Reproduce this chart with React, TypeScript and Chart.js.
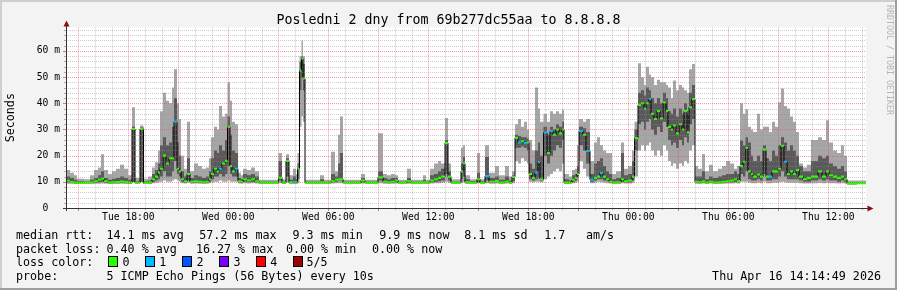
import { useEffect, useRef } from 'react';
import { Chart, registerables } from 'chart.js';

Chart.register(...registerables);

// ---- time axis (hours since Tue 00:00) ----
const X_START = 14.26;
const X_END = 62.26;
const Y_MAX = 69;

const times = [
  14.26, 14.5, 14.74, 14.92, 15.34, 15.7, 15.94, 16.18, 16.36, 16.54,
  16.78, 17.02, 17.26, 17.5, 17.74, 17.98, 18.22, 18.4, 18.7, 18.91,
  19.18, 19.42, 19.6, 19.78, 19.9, 20.08, 20.26, 20.44, 20.62, 20.74,
  20.92, 21.04, 21.16, 21.34, 21.52, 21.7, 21.94, 22.18, 22.42, 22.66,
  22.84, 22.96, 23.14, 23.32, 23.44, 23.62, 23.8, 23.95, 24.1, 24.22,
  24.4, 24.58, 24.76, 24.88, 25.12, 25.36, 25.6, 25.84, 27.01, 27.22,
  27.46, 27.64, 27.88, 28.06, 28.15, 28.27, 28.39, 28.48, 28.6, 29.5,
  29.74, 30.16, 30.4, 30.58, 30.7, 30.88, 31.96, 32.2, 32.98, 33.28,
  33.52, 33.76, 34.0, 34.18, 34.72, 34.96, 35.68, 35.86, 36.1, 36.34,
  36.58, 36.76, 37.0, 37.18, 37.36, 37.96, 38.08, 38.2, 38.5, 38.92,
  39.1, 39.4, 39.64, 40.0, 40.24, 40.6, 40.84, 41.02, 41.2, 41.38,
  41.56, 41.74, 41.92, 42.04, 42.22, 42.4, 42.58, 42.7, 42.91, 43.12,
  43.3, 43.48, 43.66, 43.84, 44.02, 44.14, 44.44, 44.62, 44.8, 44.92,
  45.04, 45.28, 45.46, 45.7, 45.94, 46.12, 46.3, 46.48, 46.66, 46.84,
  47.02, 47.26, 47.56, 47.74, 47.98, 48.22, 48.37, 48.58, 48.76, 48.94,
  49.06, 49.24, 49.36, 49.54, 49.72, 49.9, 50.08, 50.26, 50.38, 50.56,
  50.68, 50.86, 51.04, 51.22, 51.34, 51.52, 51.64, 51.82, 52.0, 52.18,
  52.42, 52.6, 52.84, 53.08, 53.38, 53.62, 53.86, 54.1, 54.34, 54.52,
  54.7, 54.88, 55.03, 55.18, 55.36, 55.48, 55.72, 55.9, 56.08, 56.26,
  56.44, 56.62, 56.8, 56.98, 57.16, 57.34, 57.52, 57.7, 57.88, 58.06,
  58.24, 58.48, 58.72, 58.96, 59.2, 59.38, 59.62, 59.86, 60.04, 60.28,
  60.52, 60.76, 60.94, 61.12, 61.72,
];

// ---- rtt values (ms) ----
const minRtt = [
  9.3, 9.3, 9.2, 9.2, 9.2, 9.3, 9.3, 9.3, 9.4, 9.3,
  9.2, 9.3, 9.3, 9.3, 9.3, 9.2, 9.8, 9.2, 9.8, 9.2,
  9.2, 9.5, 9.6, 9.8, 10, 10.5, 10, 10, 10.5, 11,
  10.5, 10, 9.5, 9.4, 9.6, 9.3, 9.4, 9.3, 9.3, 9.3,
  9.5, 9.7, 10, 10, 10.5, 10, 10, 10.5, 10, 10,
  10, 9.4, 9.3, 9.5, 9.4, 9.5, 9.4, 9.2, 9.5, 9.2,
  9.6, 9.3, 9.3, 9.3, 9.5, 31, 35, 33, 9.2, 9.3,
  9.2, 9.4, 9.5, 9.5, 9.5, 9.2, 9.4, 9.2, 9.5, 9.3,
  9.3, 9.3, 9.4, 9.2, 9.3, 9.2, 9.3, 9.2, 9.4, 9.5,
  9.5, 9.6, 10, 9.6, 9.2, 9.6, 9.8, 9.3, 9.2, 9.5,
  9.2, 9.5, 9.3, 9.4, 9.3, 9.4, 9.2, 9.5, 18, 17,
  19, 18, 17, 10, 9.8, 10, 10, 9.8, 11, 12,
  13, 14, 15, 14, 17, 9.2, 9.2, 9.5, 9.6, 10,
  18, 15, 12, 9.5, 9.6, 10, 9.8, 9.6, 9.5, 9.4,
  9.3, 9.3, 9.5, 9.4, 9.4, 9.6, 12, 22, 24, 22,
  24, 25, 22, 20, 22, 20, 24, 22, 18, 16,
  17, 15, 17, 16, 18, 17, 22, 24, 9.3, 9.3,
  9.4, 9.3, 9.4, 9.3, 9.3, 9.3, 9.4, 9.4, 9.5, 9.4,
  10, 10, 10, 9.6, 9.5, 9.5, 9.6, 9.5, 10, 9.5,
  9.5, 9.6, 9.6, 9.8, 10, 9.8, 9.6, 9.6, 9.6, 9.6,
  9.5, 9.4, 9.4, 9.5, 9.5, 9.6, 9.5, 9.6, 9.5, 9.5,
  9.4, 9.5, 9.4, 9.1, 9.2,
];

const lowRtt = [
  9.8, 9.6, 9.4, 9.4, 9.4, 9.5, 9.6, 9.8, 10, 9.6,
  9.4, 9.5, 9.5, 9.6, 9.5, 9.4, 10, 9.4, 10, 9.4,
  9.4, 10, 10.5, 11, 12, 14, 12, 12, 14, 18,
  13, 12, 10, 9.7, 10.5, 9.6, 9.7, 9.6, 9.5, 9.6,
  10, 11, 12, 12, 13, 12, 13, 16, 13, 12,
  12, 9.7, 9.6, 10, 9.8, 10, 9.7, 9.4, 10.5, 9.4,
  12, 9.5, 9.5, 9.5, 11, 45, 50, 45, 9.4, 9.5,
  9.4, 9.7, 10, 10.5, 10.5, 9.4, 9.7, 9.4, 10.5, 9.6,
  9.5, 9.6, 9.8, 9.4, 9.6, 9.4, 9.5, 9.4, 9.8, 10,
  10.2, 10.5, 13, 10.5, 9.4, 11, 12, 9.5, 9.4, 10,
  9.4, 10.5, 9.6, 9.8, 9.5, 9.7, 9.4, 10.2, 23, 23,
  23.5, 23, 22, 11, 10.5, 11, 11.5, 10.5, 20, 17,
  20, 22, 24, 23, 26, 9.4, 9.4, 10, 10.5, 12,
  24, 22, 17, 10, 10.5, 11, 11, 10.5, 10.3, 9.7,
  9.5, 9.5, 10, 9.7, 9.8, 10.5, 22, 32, 33, 30,
  33, 34, 30, 28, 31, 29, 33, 31, 26, 24,
  25, 23, 26, 24, 27, 25, 32, 34, 9.6, 9.5,
  9.7, 9.5, 9.6, 9.5, 9.5, 9.6, 9.7, 9.8, 10, 9.8,
  13, 12, 14, 11, 10.5, 10.5, 11, 10.5, 13, 10.5,
  10.5, 11, 11, 12, 14, 12, 11, 11, 11, 11,
  10.5, 10, 10, 10.5, 10.5, 11, 10.5, 11, 10.5, 10.5,
  10, 10.5, 10, 9.2, 9.3,
];

const medianRtt = [
  10.4, 9.9, 9.7, 9.6, 9.6, 9.8, 10.2, 10.8, 11.2, 10.2,
  9.7, 9.8, 9.9, 10.1, 9.9, 9.7, 30.2, 9.6, 30.2, 9.6,
  9.7, 11, 12, 13.5, 15, 20, 17, 19, 19, 33,
  15, 14, 11, 10.2, 13, 10, 10.2, 10, 9.8, 10,
  11, 13, 15, 14, 15, 17, 18, 31, 16, 14,
  15, 10.2, 10, 11, 10.5, 11, 10.2, 9.6, 11.5, 9.7,
  18, 9.8, 9.9, 9.8, 15, 52.5, 57, 49.5, 9.6, 9.8,
  9.6, 10.2, 10.8, 11, 11, 9.6, 10.5, 9.6, 11.7, 10,
  9.8, 10, 10.5, 9.6, 10.2, 9.6, 9.8, 9.6, 10.5, 11,
  11.5, 12, 24.8, 12, 9.6, 14, 17, 9.8, 9.6, 11,
  9.6, 12.2, 10, 10.3, 9.7, 10, 9.6, 11.9, 26.8, 25,
  25.5, 24.8, 25, 13, 11.5, 13.5, 17.5, 11, 28.8, 21,
  29.4, 28, 30, 28.5, 30, 9.7, 9.6, 10.8, 11.5, 13,
  29.4, 28, 21.8, 10.8, 11.5, 12, 13.4, 12, 11, 10,
  9.7, 9.8, 11, 10.2, 10.5, 12, 26.7, 39.4, 40, 38,
  40, 41.6, 36, 34, 37, 34.3, 40.4, 37, 31, 30,
  31.5, 28.5, 32, 30, 37, 29, 38.5, 41.6, 10, 9.8,
  10.2, 9.7, 10, 9.7, 9.8, 10, 10.2, 10.5, 11, 10.3,
  16, 17.7, 22.9, 14, 13, 12, 12.8, 12, 22.3, 12,
  12, 14, 14, 15, 23.8, 17.7, 13, 14, 13, 14.5,
  12, 11, 11.5, 12, 12, 14, 12, 14, 12.5, 12,
  11.5, 12, 11, 9.3, 9.5,
];

const highRtt = [
  12, 11.5, 10.8, 10.2, 10.0, 10.8, 11.5, 12.5, 14, 11.5,
  10.8, 11.2, 11.5, 12, 11.5, 10.8, 31, 10.2, 30.8, 10.2,
  10.5, 13, 14.5, 17, 24, 27, 24, 25, 31, 42,
  25, 20, 14, 12, 19, 11.5, 12.5, 12, 11.5, 12,
  14, 19, 22, 21, 24, 22, 26, 35, 28, 22,
  21, 11.5, 11, 13, 12.5, 13, 12, 10, 18, 10.2,
  19, 10.8, 12, 11, 17, 56, 58, 55, 10, 11,
  10, 13, 12, 17, 21, 10, 11.5, 10, 14, 11.5,
  11, 11.5, 11.5, 10, 11.5, 10, 10.8, 10, 12.5, 13,
  14, 15, 26, 14, 10, 17, 19.5, 11, 10.2, 13.5,
  10.2, 19.5, 11.5, 12, 10.8, 12, 10.5, 12.5, 28, 27.5,
  27, 27, 26.5, 17, 15, 22, 25, 20, 31, 28,
  31, 30, 32, 31, 33, 11, 10.5, 12.5, 13, 16,
  31, 30.5, 29, 13, 17, 18, 19, 16, 14, 13,
  11, 11.5, 21, 12.5, 13, 18, 30, 44, 45, 43,
  46, 45, 42, 40, 42, 40, 44, 42, 37, 36,
  38, 35, 38, 36, 40, 36, 44, 47, 12, 12,
  14, 11, 12, 11.5, 12, 12.5, 13, 13, 14, 13,
  25.8, 24, 27, 25, 20, 18, 20, 18, 24, 19,
  18, 22, 20, 24, 27, 25, 22, 24, 22, 20,
  16, 14, 14, 18, 18, 20, 19, 20, 17, 16,
  15, 16, 14, 9.6, 9.8,
];

const maxRtt = [
  14.5, 13.5, 12.5, 11.2, 11.0, 12.5, 14.5, 15.5, 20.5, 14.5,
  13, 14, 15, 16.5, 15, 12.5, 38.5, 11.5, 31.5, 11.2,
  12, 15.5, 17.5, 22, 37, 44, 41, 40, 46, 53,
  40, 34, 20, 15, 33, 14, 17, 16, 15, 15.5,
  19, 27, 31, 30, 39, 35, 36, 48, 41, 33,
  32, 13.5, 12.5, 15, 14.5, 15.5, 14, 10.8, 21, 11,
  20.5, 12.5, 15, 13, 21, 58, 64, 58, 10.8, 12.5,
  10.8, 21.5, 14, 28, 35, 10.8, 13, 10.8, 28.6, 13,
  12.5, 13, 12.5, 10.8, 15, 10.8, 12.5, 10.8, 15, 17,
  18, 17, 34.4, 17, 11, 23, 24, 12.5, 11, 21,
  11, 24, 13.5, 16, 12.5, 16, 12, 14, 32, 34,
  31, 33, 30, 26, 22, 46, 38, 33, 36, 33,
  37, 36, 37, 36, 37.5, 13, 12, 14.5, 15, 24,
  34, 33, 34, 18, 25, 27, 24, 22, 21, 21,
  13, 14, 25, 15, 16, 22, 33, 55.3, 50, 47,
  54, 51, 50, 47, 49, 48, 48, 47, 46, 42,
  48.7, 45, 47, 46, 45, 44, 53, 55, 16, 15,
  20.6, 14, 16.5, 14, 15, 16, 18, 17, 15, 16,
  40, 36, 37.7, 31, 30, 29, 36, 30, 31, 31,
  29, 33, 31, 40.4, 45.7, 39, 38, 35, 33, 29,
  17, 15.5, 16.5, 26, 26, 27, 26, 33.5, 25, 22,
  21, 24, 20, 10.5, 10.5,
];

// lost pings out of 5 for each step
const lossCount = [
  0, 0, 0, 0, 0, 0, 0, 0, 0, 0,
  0, 0, 0, 0, 0, 0, 0, 0, 0, 0,
  0, 0, 0, 0, 0, 0, 0, 0, 0, 1,
  0, 0, 0, 0, 0, 0, 0, 0, 0, 0,
  0, 0, 0, 0, 1, 0, 0, 0, 0, 0,
  1, 0, 0, 0, 0, 0, 0, 0, 0, 0,
  0, 0, 1, 0, 0, 0, 0, 0, 0, 0,
  0, 0, 0, 0, 0, 0, 0, 0, 0, 0,
  0, 0, 0, 0, 0, 0, 0, 0, 0, 0,
  0, 0, 0, 0, 0, 0, 0, 0, 0, 0,
  0, 1, 0, 0, 0, 0, 0, 0, 0, 1,
  0, 1, 0, 0, 0, 1, 1, 0, 1, 0,
  1, 0, 0, 0, 0, 0, 0, 0, 0, 0,
  1, 0, 1, 1, 0, 0, 1, 0, 0, 0,
  0, 0, 0, 0, 0, 0, 0, 0, 0, 0,
  0, 1, 0, 0, 0, 0, 0, 0, 0, 0,
  0, 0, 0, 0, 0, 0, 0, 0, 0, 0,
  0, 0, 0, 0, 0, 0, 0, 0, 0, 0,
  0, 0, 0, 0, 0, 0, 0, 0, 0, 0,
  1, 0, 0, 0, 0, 1, 0, 0, 0, 0,
  0, 0, 0, 0, 0, 0, 0, 0, 0, 0,
  0, 0, 0, 0, 0,
];

// ---- ticks & texts ----
const xTickHours = [18, 24, 30, 36, 42, 48, 54, 60];
const xTickLabels = ['Tue 18:00', 'Wed 00:00', 'Wed 06:00', 'Wed 12:00', 'Wed 18:00', 'Thu 00:00', 'Thu 06:00', 'Thu 12:00'];
const yTickValues = [0, 10, 20, 30, 40, 50, 60];
const yTickLabels = ['0  ', '10 m', '20 m', '30 m', '40 m', '50 m', '60 m'];
const yTitle = 'Seconds';
const titleText = 'Posledni 2 dny from 69b277dc55aa to 8.8.8.8';
const watermark = 'RRDTOOL / TOBI OETIKER';
const rttRow = ['median rtt:', '14.1 ms avg', '57.2 ms max', '9.3 ms min', '9.9 ms now', '8.1 ms sd', '1.7', 'am/s'];
const lossRow = ['packet loss:', '0.40 % avg', '16.27 % max', '0.00 % min', '0.00 % now'];
const lossColorLabel = 'loss color:';
const lossLabels = ['0', '1', '2', '3', '4', '5/5'];
const lossColors = ['#26ff00', '#00b8ff', '#0059ff', '#7e00ff', '#ff0000', '#a10000'];
const probeRow = ['probe:', '5 ICMP Echo Pings (56 Bytes) every 10s'];
const stampText = 'Thu Apr 16 14:14:49 2026';

const FONT = 'DejaVu Sans Mono';
const LIGHT = '#a6a6a6';
const DARK = '#5a5a5a';
const MEDIAN_HALF = 0.4;

function series(values: number[]) {
  const pts = times.map((t, i) => ({ x: t, y: values[i] }));
  pts.push({ x: X_END, y: values[values.length - 1] });
  return pts;
}

const framePlugin = {
  id: 'rrdFrame',
  beforeDraw(chart: any) {
    const { ctx, width, height, chartArea: a } = chart;
    ctx.save();
    ctx.fillStyle = '#f3f3f3';
    ctx.fillRect(0, 0, width, height);
    ctx.fillStyle = '#cfcfcf';
    ctx.fillRect(0, 0, width, 2);
    ctx.fillRect(0, 0, 2, height);
    ctx.fillStyle = '#9e9e9e';
    ctx.fillRect(0, height - 2, width, 2);
    ctx.fillRect(width - 2, 0, 2, height);
    ctx.fillStyle = '#ffffff';
    ctx.fillRect(a.left, a.top, a.right - a.left, a.bottom - a.top);
    ctx.restore();
  },
};

const gridPlugin = {
  id: 'rrdGrid',
  afterDatasetsDraw(chart: any) {
    const { ctx, chartArea: a, scales } = chart;
    const xs = scales.x;
    const ys = scales.y;
    const minor = 'rgba(143,143,143,0.45)';
    const major = 'rgba(222,80,80,0.55)';
    ctx.save();
    ctx.lineWidth = 1;
    ctx.setLineDash([1, 1]);
    for (let h = Math.ceil(xs.min); h <= xs.max; h++) {
      const px = Math.round(xs.getPixelForValue(h)) + 0.5;
      ctx.strokeStyle = h % 3 === 0 ? major : minor;
      ctx.beginPath();
      ctx.moveTo(px, a.top);
      ctx.lineTo(px, a.bottom);
      ctx.stroke();
    }
    for (let v = 2; v <= ys.max; v += 2) {
      const py = Math.round(ys.getPixelForValue(v)) + 0.5;
      ctx.strokeStyle = v % 10 === 0 ? major : minor;
      ctx.beginPath();
      ctx.moveTo(a.left, py);
      ctx.lineTo(a.right, py);
      ctx.stroke();
    }
    ctx.setLineDash([]);
    // tick marks
    for (let h = Math.ceil(xs.min); h <= xs.max; h++) {
      const px = Math.round(xs.getPixelForValue(h)) + 0.5;
      const isMajor = h % 3 === 0;
      ctx.strokeStyle = isMajor ? 'rgba(222,80,80,0.8)' : 'rgba(143,143,143,0.7)';
      ctx.beginPath();
      ctx.moveTo(px, a.bottom);
      ctx.lineTo(px, a.bottom + (isMajor ? 3 : 2));
      ctx.stroke();
    }
    for (let v = 2; v <= ys.max; v += 2) {
      const py = Math.round(ys.getPixelForValue(v)) + 0.5;
      const isMajor = v % 10 === 0;
      ctx.strokeStyle = isMajor ? 'rgba(222,80,80,0.8)' : 'rgba(143,143,143,0.7)';
      ctx.beginPath();
      ctx.moveTo(a.left - (isMajor ? 3 : 2), py);
      ctx.lineTo(a.left, py);
      ctx.stroke();
    }
    // axes
    const bx = Math.round(a.left) + 0.5;
    const by = Math.round(a.bottom) + 0.5;
    ctx.strokeStyle = '#333333';
    ctx.beginPath();
    ctx.moveTo(a.left - 3, by);
    ctx.lineTo(a.right + 3, by);
    ctx.moveTo(bx, a.bottom + 3);
    ctx.lineTo(bx, a.top - 3);
    ctx.stroke();
    ctx.fillStyle = '#8b1010';
    ctx.beginPath();
    ctx.moveTo(bx, a.top - 7);
    ctx.lineTo(bx - 3, a.top - 1);
    ctx.lineTo(bx + 3, a.top - 1);
    ctx.closePath();
    ctx.fill();
    ctx.beginPath();
    ctx.moveTo(a.right + 7.5, by);
    ctx.lineTo(a.right + 1.5, by - 3);
    ctx.lineTo(a.right + 1.5, by + 3);
    ctx.closePath();
    ctx.fill();
    ctx.restore();
  },
};

const textPlugin = {
  id: 'rrdText',
  afterDraw(chart: any) {
    const { ctx, width } = chart;
    ctx.save();
    ctx.fillStyle = '#000';
    ctx.textBaseline = 'alphabetic';
    ctx.textAlign = 'center';
    ctx.font = `13.3px "${FONT}"`;
    ctx.fillText(titleText, width / 2, 23.7);

    ctx.font = `11.7px "${FONT}"`;
    ctx.textAlign = 'left';
    const rttX = [16, 106.5, 199.2, 292.5, 379.2, 464.2, 544.2, 586];
    rttRow.forEach((s, i) => ctx.fillText(s, rttX[i], 238.5));
    const lossX = [16, 106.5, 195.9, 285.9, 371.9];
    lossRow.forEach((s, i) => ctx.fillText(s, lossX[i], 252.5));
    ctx.fillText(lossColorLabel, 16, 266.4);
    const boxX = [108.5, 145.5, 182.5, 219.5, 256.5, 293.5];
    const labX = [122.5, 159.2, 196.5, 233.5, 270.2, 306.5];
    lossLabels.forEach((s, i) => {
      ctx.fillStyle = lossColors[i];
      ctx.fillRect(boxX[i], 256.5, 9, 10);
      ctx.strokeStyle = '#000';
      ctx.lineWidth = 1;
      ctx.strokeRect(boxX[i], 256.5, 9, 10);
      ctx.fillStyle = '#000';
      ctx.fillText(s, labX[i], 266.4);
    });
    ctx.fillText(probeRow[0], 16, 280.4);
    ctx.fillText(probeRow[1], 106.5, 280.4);
    ctx.textAlign = 'right';
    ctx.fillText(stampText, 881, 280.4);

    // watermark
    ctx.translate(889, 5);
    ctx.rotate(Math.PI / 2);
    ctx.textAlign = 'left';
    ctx.textBaseline = 'middle';
    ctx.fillStyle = '#b4b4b4';
    ctx.font = `8.3px "${FONT}"`;
    ctx.fillText(watermark, 0, 0);
    ctx.restore();
  },
};

export default function App() {
  const ref = useRef<HTMLCanvasElement>(null);

  useEffect(() => {
    document.body.style.margin = '0';
    const canvas = ref.current;
    if (!canvas) return;
    const medUp = medianRtt.map((v) => v + MEDIAN_HALF);
    const medLo = medianRtt.map((v) => v - MEDIAN_HALF);
    const lossSeg = (c: any) => lossColors[lossCount[c.p0DataIndex] ?? 0];
    const common = {
      stepped: true,
      pointRadius: 0,
      pointHoverRadius: 0,
      borderWidth: 0,
      borderColor: 'rgba(0,0,0,0)',
    };
    const chart = new Chart(canvas, {
      type: 'line',
      data: {
        datasets: [
          { ...common, label: 'median', data: series(medUp), fill: '+1', backgroundColor: lossColors[0], segment: { backgroundColor: lossSeg } },
          { ...common, label: 'median low', data: series(medLo), fill: false },
          { ...common, label: 'median rtt', data: series(medianRtt), fill: false, borderColor: '#000000', borderWidth: 1 },
          { ...common, label: 'upper', data: series(highRtt), fill: '+1', backgroundColor: DARK },
          { ...common, label: 'lower', data: series(lowRtt), fill: false },
          { ...common, label: 'max', data: series(maxRtt), fill: '+1', backgroundColor: LIGHT },
          { ...common, label: 'min', data: series(minRtt), fill: false },
        ] as any,
      },
      options: {
        responsive: false,
        animation: false,
        devicePixelRatio: 1,
        events: [],
        layout: { padding: { top: 27.4, right: 31, left: 0, bottom: 0 } },
        plugins: {
          legend: { display: false },
          tooltip: { enabled: false },
          title: { display: false },
        },
        scales: {
          x: {
            type: 'linear',
            min: X_START,
            max: X_END,
            grid: { display: false, drawTicks: false },
            border: { display: false },
            afterBuildTicks: (s: any) => {
              s.ticks = xTickHours.map((v) => ({ value: v }));
            },
            afterFit: (s: any) => {
              s.height = 82;
            },
            ticks: {
              autoSkip: false,
              maxRotation: 0,
              minRotation: 0,
              padding: 4,
              color: '#000',
              font: { family: FONT, size: 9.7 },
              callback: (_v: any, i: number) => xTickLabels[i],
            },
          },
          y: {
            type: 'linear',
            min: 0,
            max: Y_MAX,
            grid: { display: false, drawTicks: false },
            border: { display: false },
            afterBuildTicks: (s: any) => {
              s.ticks = yTickValues.map((v) => ({ value: v }));
            },
            afterFit: (s: any) => {
              s.width = 66;
            },
            ticks: {
              padding: 6,
              color: '#000',
              font: { family: FONT, size: 9.7 },
              callback: (_v: any, i: number) => yTickLabels[i],
            },
            title: {
              display: true,
              text: yTitle,
              color: '#000',
              font: { family: FONT, size: 11.7 },
              padding: { top: 3.5, bottom: 0 },
            },
          },
        },
      } as any,
      plugins: [framePlugin, gridPlugin, textPlugin],
    });
    return () => chart.destroy();
  }, []);

  return <canvas ref={ref} width={897} height={290} style={{ display: 'block' }} />;
}
